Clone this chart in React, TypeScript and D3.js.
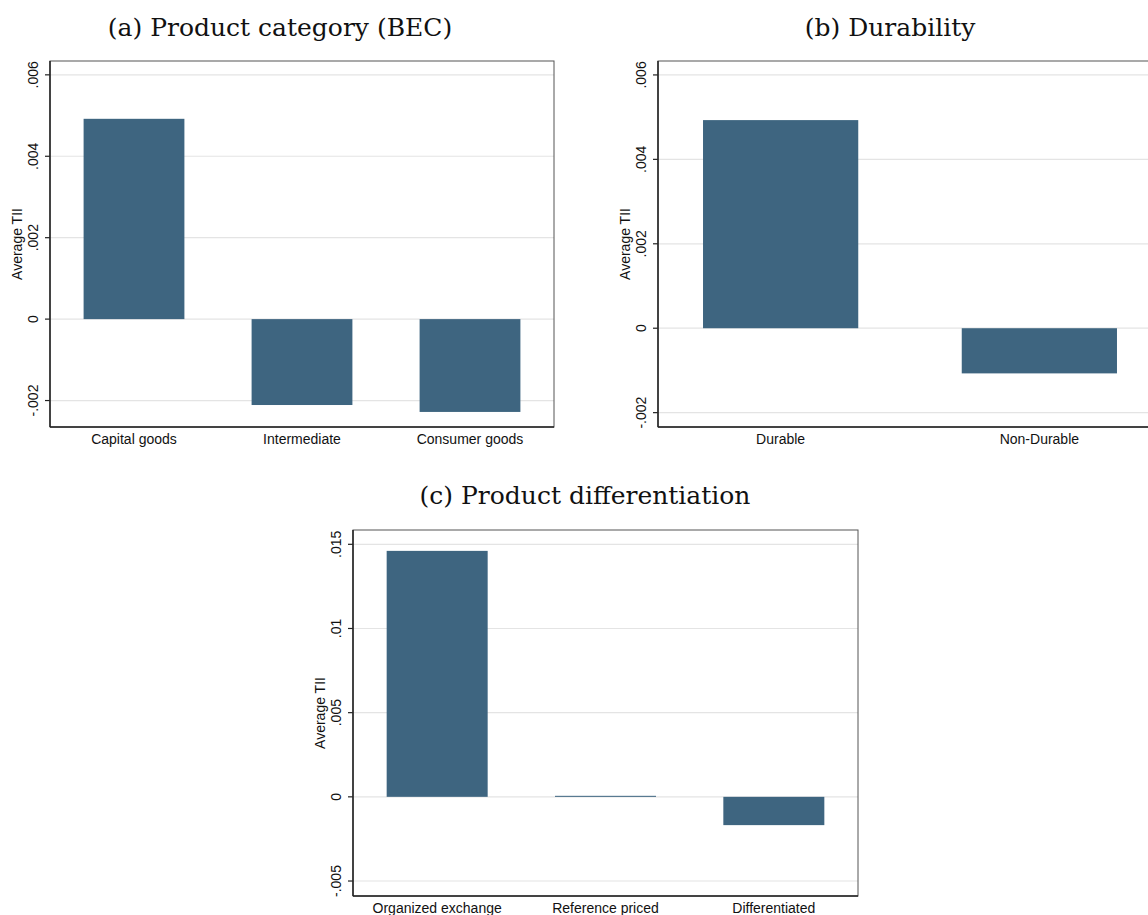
import React from "react";
import * as d3 from "d3";

// panel (a) Product category (BEC)
const becCategories = ["Capital goods", "Intermediate", "Consumer goods"];
const becValues = [0.00492, -0.00211, -0.00228];
const becTicks = [-0.002, 0, 0.002, 0.004, 0.006];
const becTickLabels = ["-.002", "0", ".002", ".004", ".006"];

// panel (b) Durability
const durCategories = ["Durable", "Non-Durable"];
const durValues = [0.00493, -0.00107];
const durTicks = [-0.002, 0, 0.002, 0.004, 0.006];
const durTickLabels = ["-.002", "0", ".002", ".004", ".006"];

// panel (c) Product differentiation
const diffCategories = ["Organized exchange", "Reference priced", "Differentiated"];
const diffValues = [0.01461, 0.00006, -0.00168];
const diffTicks = [-0.005, 0, 0.005, 0.01, 0.015];
const diffTickLabels = ["-.005", "0", ".005", ".01", ".015"];

const barColor = "#3e6580";
const sans = "'Liberation Sans', Arial, Helvetica, sans-serif";
const serif = "'DejaVu Serif', serif";

type PanelProps = {
  title: string;
  titleX: number;
  titleY: number;
  categories: string[];
  values: number[];
  ticks: number[];
  tickLabels: string[];
  domain: [number, number];
  left: number;
  top: number;
  width: number;
  height: number;
  outer: number;
};

const Panel = (props: PanelProps) => {
  const { left, top, width, height } = props;
  const x = d3
    .scaleBand()
    .domain(props.categories)
    .range([left, left + width])
    .paddingInner(0.4)
    .paddingOuter(props.outer);
  const y = d3.scaleLinear().domain(props.domain).range([top + height, top]);
  const bottom = top + height;

  return (
    <g>
      <text
        x={props.titleX}
        y={props.titleY}
        textAnchor="middle"
        fontFamily={serif}
        fontSize={25}
        fill="#111"
      >
        {props.title}
      </text>
      {props.ticks.map((t, i) => (
        <g key={"g" + i}>
          <line x1={left} x2={left + width} y1={y(t)} y2={y(t)} stroke="#e4e4e4" strokeWidth={1.2} />
          <line x1={left - 5} x2={left} y1={y(t)} y2={y(t)} stroke="#222" strokeWidth={1.2} />
          <text
            transform={`translate(${left - 12},${y(t)}) rotate(-90)`}
            textAnchor="middle"
            fontFamily={sans}
            fontSize={14}
            fill="#111"
          >
            {props.tickLabels[i]}
          </text>
        </g>
      ))}
      {props.categories.map((c, i) => {
        const v = props.values[i];
        return (
          <rect
            key={c}
            x={x(c)}
            width={x.bandwidth()}
            y={y(Math.max(0, v))}
            height={Math.abs(y(v) - y(0))}
            fill={barColor}
          />
        );
      })}
      {props.categories.map(c => (
        <text
          key={"l" + c}
          x={(x(c) as number) + x.bandwidth() / 2}
          y={bottom + 17}
          textAnchor="middle"
          fontFamily={sans}
          fontSize={14}
          fill="#111"
        >
          {c}
        </text>
      ))}
      <rect x={left} y={top} width={width} height={height} fill="none" stroke="#555" strokeWidth={1} />
      <line x1={left} x2={left} y1={top} y2={bottom} stroke="#222" strokeWidth={1.5} />
      <line x1={left} x2={left + width} y1={bottom} y2={bottom} stroke="#222" strokeWidth={1.5} />
      <text
        transform={`translate(${left - 28},${top + height / 2}) rotate(-90)`}
        textAnchor="middle"
        fontFamily={sans}
        fontSize={14}
        fill="#111"
      >
        Average TII
      </text>
    </g>
  );
};

const App = () => {
  return (
    <svg
      width={1148}
      height={915}
      style={{ position: "absolute", left: 0, top: 0, background: "#fff" }}
    >
      <rect width={1148} height={915} fill="#fff" />
      <Panel
        title="(a) Product category (BEC)"
        titleX={280}
        titleY={36}
        categories={becCategories}
        values={becValues}
        ticks={becTicks}
        tickLabels={becTickLabels}
        domain={[-0.00265, 0.00634]}
        left={50}
        top={61}
        width={504}
        height={366}
        outer={0.2}
      />
      <Panel
        title="(b) Durability"
        titleX={890}
        titleY={36}
        categories={durCategories}
        values={durValues}
        ticks={durTicks}
        tickLabels={durTickLabels}
        domain={[-0.00234, 0.00633]}
        left={658}
        top={61}
        width={504}
        height={366}
        outer={0.174}
      />
      <Panel
        title="(c) Product differentiation"
        titleX={585}
        titleY={504}
        categories={diffCategories}
        values={diffValues}
        ticks={diffTicks}
        tickLabels={diffTickLabels}
        domain={[-0.00589, 0.01585]}
        left={353}
        top={530}
        width={505}
        height={366}
        outer={0.2}
      />
    </svg>
  );
};

export default App;
